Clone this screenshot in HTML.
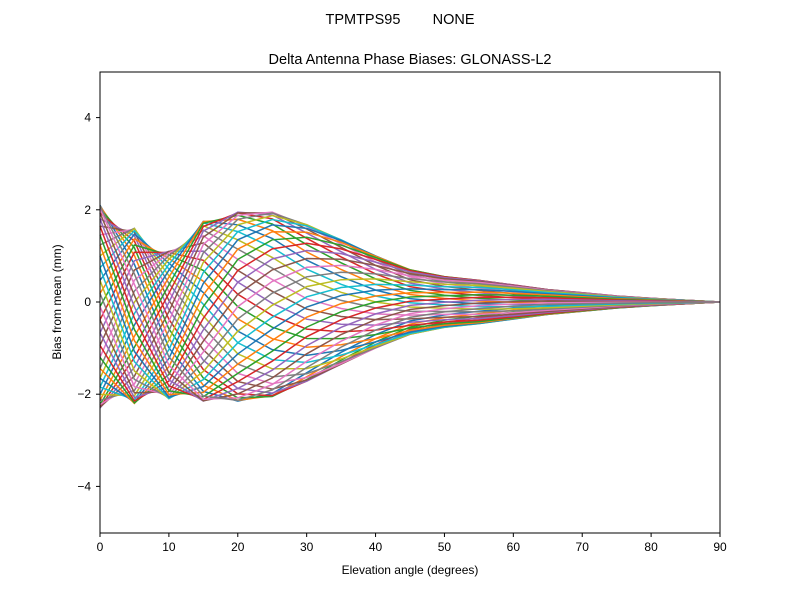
<!DOCTYPE html>
<html><head><meta charset="utf-8"><style>
body{margin:0;background:#fff}
svg text{font-family:"Liberation Sans","DejaVu Sans",sans-serif;fill:#000}
</style></head><body>
<svg id="s" width="800" height="600" xmlns="http://www.w3.org/2000/svg">
<rect width="800" height="600" fill="#fff"/>
<text x="400" y="24" font-size="14.5" text-anchor="middle" xml:space="preserve">TPMTPS95        NONE</text>
<text x="410" y="64" font-size="14.5" text-anchor="middle">Delta Antenna Phase Biases: GLONASS-L2</text>
<g id="lines"></g>
<rect x="100" y="72" width="620" height="461" fill="none" stroke="#000" stroke-width="1"/>
<g id="ticks" font-size="12"></g>
<text x="410" y="574" font-size="12" text-anchor="middle">Elevation angle (degrees)</text>
<text transform="translate(61,302) rotate(-90)" font-size="12" text-anchor="middle">Bias from mean (mm)</text>
</svg>
<script>
const X=e=>100+e*620/90, Y=v=>302-v*46.1;
const t=document.getElementById('ticks');let h='';
for(let e=0;e<=90;e+=10){h+=`<line x1="${X(e)}" y1="533" x2="${X(e)}" y2="537" stroke="#000"/><text x="${X(e)}" y="551" text-anchor="middle">${e}</text>`;}
for(let v=-4;v<=4;v+=2){h+=`<line x1="96" y1="${Y(v)}" x2="100" y2="${Y(v)}" stroke="#000"/><text x="91" y="${Y(v)+4}" text-anchor="end">${v<0?'\u2212'+(-v):v}</text>`;}
t.innerHTML=h;
const cols=['#1f77b4','#ff7f0e','#2ca02c','#d62728','#9467bd','#8c564b','#e377c2','#7f7f7f','#bcbd22','#17becf'];
const amp=[2.2,1.9,1.6,1.95,2.05,2.0,1.7,1.35,1.0,0.7,0.55,0.47,0.37,0.27,0.2,0.13,0.08,0.04,0];
const off=[-0.1,-0.3,-0.5,-0.2,-0.1,-0.05,-0.02,0,0,0,0,0,0,0,0,0,0,0,0];
const phs=[0,0.3,0.6,0.85,1.0,1.08,1.15,1.2,1.25,1.3,1.33,1.36,1.38,1.4,1.4,1.4,1.4,1.4,1.4];
let L='';
const N=48;
for(let i=0;i<N;i++){const th=i*2*Math.PI/N;let p=[];
for(let k=0;k<=18;k++){const e=k*5;const ph=phs[k]*Math.PI;
const v=amp[k]*Math.cos(th-ph)+off[k];p.push(X(e).toFixed(1)+','+Y(v).toFixed(1));}
L+=`<polyline points="${p.join(' ')}" fill="none" stroke="${cols[i%10]}" stroke-width="1.5"/>`;}
document.getElementById('lines').innerHTML=L;
</script>
</body></html>
